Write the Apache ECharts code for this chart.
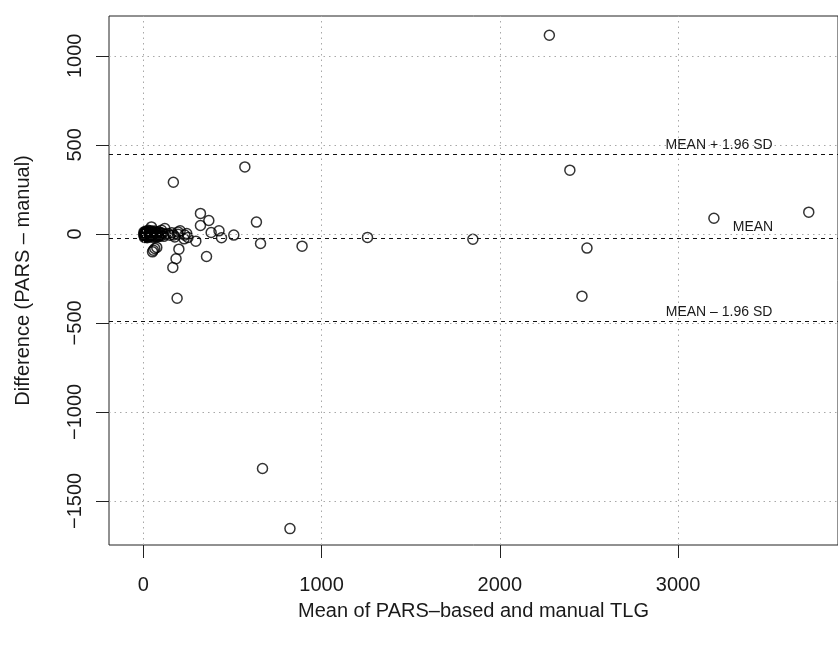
<!DOCTYPE html>
<html>
<head>
<meta charset="utf-8">
<script src="https://cdn.jsdelivr.net/npm/echarts@6/dist/echarts.min.js"></script>
<style>
html, body { margin: 0; padding: 0; background: #fff; }
#chart { width: 838px; height: 646px; }
</style>
</head>
<body>
<div id="chart"></div>
<script>
// Bland-Altman: mean of the two TLG values vs their difference
var meanTLG = [2278, 570, 169, 2393, 3733, 3201, 2489, 2461, 1849, 1258, 891, 658, 635, 508, 669, 823,
  321, 368, 321, 425, 381, 439, 295, 355, 200, 184, 166, 190, 244, 251, 207, 195, 177, 229, 233, 195,
  139, 102, 121, 46, 76, 65, 57, 52,
  3, 5, 6, 8, 10, 12, 14, 16, 18, 20, 22, 25, 27, 30, 32, 35, 38, 40, 43, 46, 50, 54, 58, 62, 66, 70,
  75, 80, 85, 90, 95, 100, 108, 115, 125, 150, 160, 170,
  4, 7, 9, 11, 13, 17, 19, 21, 24, 28, 31, 34, 37, 42, 48, 52, 56, 64, 72, 82, 88, 98];
var diffTLG = [1116, 376, 290, 358, 122, 88, -80, -350, -30, -20, -69, -54, 66, -7, -1318, -1656,
  115, 75, 47, 17, 8, -22, -41, -127, -86, -140, -189, -362, 2, -20, 17, -2, -17, -28, -7, 11,
  2, 21, 30, 39, -76, -82, -92, -101,
  -5, 2, -12, 8, -3, -18, 5, -8, 12, -2, -22, 4, -10, 15, -4, -15, 6, -6, 18, -12, 0, -20, 8, -4, -14, 6,
  -8, 2, -16, 10, -4, -10, 4, -14, -2, -8, 6, -6,
  10, -20, 3, -9, 14, -14, 1, 9, -6, 20, -18, 0, 11, -2, 7, 13, -8, 16, -18, 12, -12, 6];

var xTicks = [0, 1000, 2000, 3000];
var yTicks = [-1500, -1000, -500, 0, 500, 1000];

var meanDiff = -22;
var upperLoA = 446;
var lowerLoA = -490;
var loaLabels = ['MEAN + 1.96 SD', 'MEAN', 'MEAN \u2013 1.96 SD'];

var points = meanTLG.map(function (m, i) { return [m, diffTLG[i]]; });

function minus(v) { return String(v).replace('-', '\u2212'); }

var txt = '#1a1a1a';
var chart = echarts.init(document.getElementById('chart'));

chart.setOption({
  animation: false,
  textStyle: { fontFamily: 'Liberation Sans, Arial, sans-serif' },
  grid: {
    left: 109, right: 0, top: 16, bottom: 101,
    show: true, borderColor: '#222', borderWidth: 1
  },
  xAxis: {
    type: 'value',
    min: -192, max: 3897,
    axisLine: { show: false, onZero: false },
    splitLine: { show: false },
    axisTick: { customValues: xTicks, length: 13, lineStyle: { color: '#222', width: 1 } },
    axisLabel: { customValues: xTicks, fontSize: 20, color: txt, margin: 30, formatter: minus },
    name: 'Mean of PARS\u2013based and manual TLG',
    nameLocation: 'middle',
    nameGap: 56,
    nameTextStyle: { fontSize: 20, color: txt }
  },
  yAxis: {
    type: 'value',
    min: -1748, max: 1224,
    axisLine: { show: false, onZero: false },
    splitLine: { show: false },
    axisTick: { customValues: yTicks, length: 13, lineStyle: { color: '#222', width: 1 } },
    axisLabel: { customValues: yTicks, fontSize: 20, color: txt, rotate: 90, margin: 24, formatter: minus },
    name: 'Difference (PARS \u2013 manual)',
    nameLocation: 'middle',
    nameGap: 76,
    nameTextStyle: { fontSize: 20, color: txt }
  },
  series: [
    {
      // dotted grid
      type: 'scatter',
      data: [],
      z: 1,
      silent: true,
      markLine: {
        silent: true,
        symbol: 'none',
        label: { show: false },
        lineStyle: { color: '#a8a8a8', type: [1.5, 4], width: 1 },
        data: xTicks.map(function (v) { return { xAxis: v }; })
          .concat(yTicks.map(function (v) { return { yAxis: v }; }))
      }
    },
    {
      // mean and limits of agreement
      type: 'scatter',
      data: [],
      z: 2,
      silent: true,
      markLine: {
        silent: true,
        symbol: 'none',
        label: { show: false },
        lineStyle: { color: '#111', type: [4, 4], width: 1 },
        data: [{ yAxis: upperLoA }, { yAxis: meanDiff }, { yAxis: lowerLoA }]
      },
      markPoint: {
        silent: true,
        symbol: 'circle',
        symbolSize: 0,
        label: { show: true, position: 'top', distance: 2, fontSize: 14, color: txt,
          formatter: function (p) { return p.name; } },
        data: [
          { name: loaLabels[0], coord: [3230, upperLoA] },
          { name: loaLabels[1], coord: [3420, meanDiff], label: { distance: 4 } },
          { name: loaLabels[2], coord: [3230, lowerLoA] }
        ]
      }
    },
    {
      type: 'scatter',
      z: 3,
      symbol: 'circle',
      symbolSize: 10,
      itemStyle: { color: 'rgba(0,0,0,0)', borderColor: '#000', borderWidth: 1.5 },
      data: points
    }
  ]
});
</script>
</body>
</html>
